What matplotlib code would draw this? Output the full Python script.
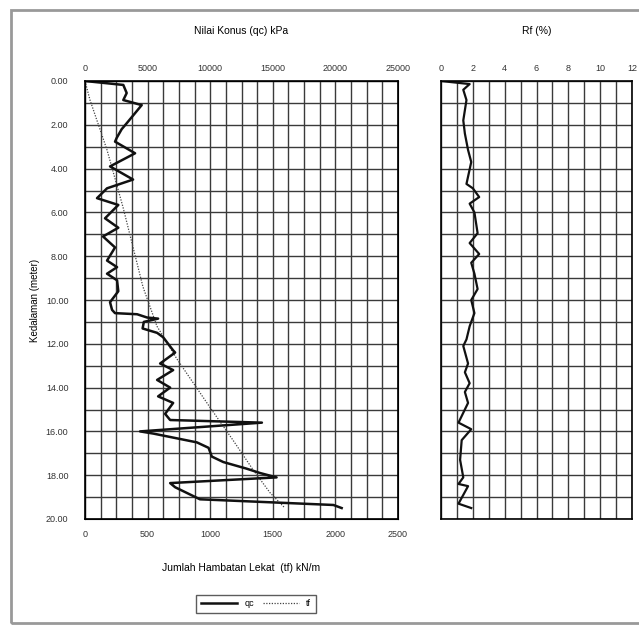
import numpy as np
from matplotlib import pyplot as plt
from matplotlib.ticker import MultipleLocator, FormatStrFormatter
from matplotlib.patches import Rectangle
import matplotlib

matplotlib.rcParams['font.family'] = ['Liberation Sans', 'DejaVu Sans']
matplotlib.rcParams['font.size'] = 6.5

#%% Data
# cone resistance qc [kPa] vs depth [m]
qc_depth = [0.00, 0.18, 0.55, 0.87, 1.10, 1.93, 2.20, 2.60, 2.77, 3.30, 3.90, 4.50, 4.90,
            5.35, 5.66, 6.27, 6.70, 7.10, 7.60, 8.20, 8.50, 8.80, 9.10, 9.60, 10.10, 10.45,
            10.60, 10.65, 10.80, 10.85, 11.00, 11.30, 11.50, 11.70, 12.30, 12.40, 12.90,
            13.20, 13.65, 14.00, 14.40, 14.70, 15.20, 15.48, 15.60, 16.00, 16.10, 16.50,
            16.75, 17.15, 17.40, 17.70, 17.90, 18.10, 18.36, 18.55, 19.10, 19.36, 19.50]
qc_val = [0, 3060, 3330, 3060, 4530, 3330, 2930, 2530, 2400, 4000, 2000, 3840, 1760,
          960, 2660, 1600, 2660, 1440, 2400, 1760, 2560, 1760, 2560, 2660, 2000, 2160,
          2400, 4160, 4960, 5840, 4700, 4600, 5760, 6240, 7040, 7200, 6000,
          7040, 5760, 6800, 5840, 7040, 6400, 6800, 14130, 4400, 5460, 8930,
          9870, 10130, 11050, 12900, 13980, 15300, 6800, 7200, 9180, 19840, 20500]

# total friction tf [kN/m] vs depth [m]
tf_depth = [0.0, 0.87, 3.15, 5.75, 9.40, 11.20, 12.70, 14.90, 16.40, 17.75, 18.80, 19.50]
tf_val = [0, 40, 176, 303, 463, 575, 735, 998, 1182, 1342, 1478, 1597]

# friction ratio Rf [%] vs depth [m]
rf_depth = [0.00, 0.14, 0.40, 0.87, 1.80, 2.40, 3.15, 3.70, 4.70, 4.90, 5.30, 5.60, 6.00,
            6.95, 7.40, 7.90, 8.30, 8.80, 9.50, 10.00, 10.60, 11.20, 11.80, 12.10, 12.90,
            13.30, 13.80, 14.20, 14.70, 15.60, 15.90, 16.40, 17.30, 18.10, 18.40, 18.50,
            19.30, 19.50]
rf_val = [0.0, 1.8, 1.4, 1.6, 1.4, 1.5, 1.7, 1.9, 1.6, 2.0, 2.4, 1.8, 2.1,
          2.3, 1.8, 2.4, 1.9, 2.1, 2.3, 1.9, 2.1, 1.8, 1.6, 1.4, 1.7,
          1.5, 1.8, 1.5, 1.7, 1.1, 1.9, 1.3, 1.2, 1.4, 1.1, 1.7,
          1.1, 1.9]

#%% Figure
W, H = 639, 625
fig = plt.figure(figsize=(W/100, H/100), dpi=100)

def fx(px):
    return px/W

def fy(py):
    return 1-py/H

grid_kw = dict(color='#3a3a3a', linewidth=1.0)

# left panel: bottom axis tf, top axis qc
ax = fig.add_axes([fx(85), fy(519), fx(398)-fx(85), fy(81)-fy(519)])
ax.set_xlim(0, 2500)
ax.set_ylim(20, 0)
ax.xaxis.set_major_locator(MultipleLocator(500))
ax.xaxis.set_minor_locator(MultipleLocator(125))
ax.yaxis.set_major_locator(MultipleLocator(2))
ax.yaxis.set_minor_locator(MultipleLocator(1))
ax.yaxis.set_major_formatter(FormatStrFormatter('%.2f'))
ax.grid(True, which='both', **grid_kw)
ax.tick_params(which='both', length=0, pad=8, colors='#333333')
ax.tick_params(axis='y', pad=12)
for s in ax.spines.values():
    s.set_linewidth(1.2)
ltf, = ax.plot(tf_val, tf_depth, color='#444444', linestyle=(0, (1, 1.2)), linewidth=0.9)

axt = ax.twiny()
axt.set_xlim(0, 25000)
axt.xaxis.set_major_locator(MultipleLocator(5000))
axt.tick_params(length=0, pad=6, colors='#333333')
lqc, = axt.plot(qc_val, qc_depth, color='#111111', linewidth=1.8)

ax.set_xlabel('Jumlah Hambatan Lekat  (tf) kN/m', fontsize=7.5, labelpad=17)
ax.set_ylabel('Kedalaman (meter)', fontsize=7, labelpad=4)
fig.text(fx(241), fy(31), 'Nilai Konus (qc) kPa', ha='center', va='center', fontsize=7.5)

# right panel: Rf
axr = fig.add_axes([fx(441), fy(519), fx(632)-fx(441), fy(81)-fy(519)])
axr.set_xlim(0, 12)
axr.set_ylim(20, 0)
axr.xaxis.set_major_locator(MultipleLocator(2))
axr.xaxis.set_minor_locator(MultipleLocator(1))
axr.yaxis.set_major_locator(MultipleLocator(1))
axr.grid(True, which='both', **grid_kw)
axr.xaxis.tick_top()
axr.tick_params(which='both', length=0, pad=6, colors='#333333')
axr.set_yticklabels([])
for s in axr.spines.values():
    s.set_linewidth(1.2)
axr.plot(rf_val, rf_depth, color='#111111', linewidth=1.6)
fig.text(fx(537), fy(31), 'Rf (%)', ha='center', va='center', fontsize=7.5)

# legend
leg = fig.legend([lqc, ltf], ['qc', 'tf'], loc='center', bbox_to_anchor=(fx(256), fy(604)),
                 ncol=2, frameon=True, fancybox=False, edgecolor='#333333', fontsize=6.5,
                 handlelength=4, columnspacing=1.0, borderpad=0.5)
leg.get_frame().set_linewidth(1.0)

# outer frame
fig.patches.append(Rectangle((fx(11), fy(623)), 1.2, fy(10)-fy(623), transform=fig.transFigure,
                             fill=False, edgecolor='#999999', linewidth=2))

fig.savefig('out.png', dpi=100)
